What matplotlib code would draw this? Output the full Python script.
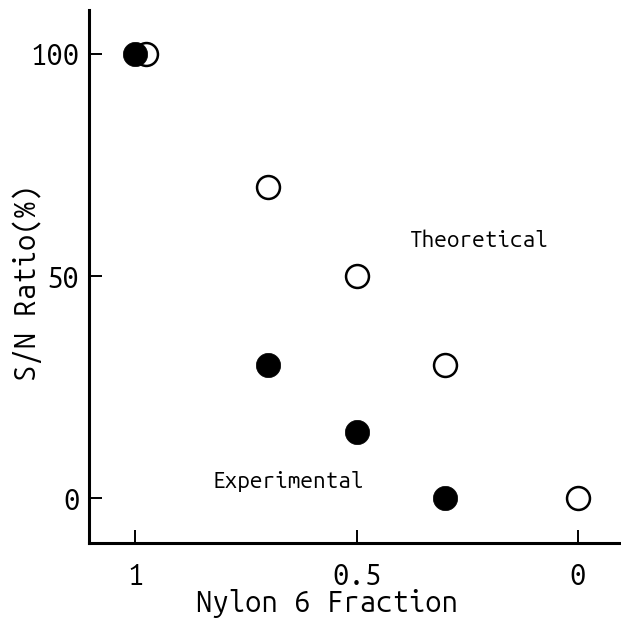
import matplotlib
matplotlib.use("Agg")
import matplotlib.pyplot as plt
from matplotlib import font_manager as fm
from matplotlib.font_manager import FontProperties

# data
exp_x = [1.0, 0.7, 0.5, 0.3]
exp_y = [100, 30, 15, 0]
theo_x = [0.975, 0.7, 0.5, 0.3, 0.0]
theo_y = [100, 70, 50, 30, 0]
xticks = [1, 0.5, 0]
xtick_labels = ["1", "0.5", "0"]
yticks = [0, 50, 100]
ytick_labels = ["0", "50", "100"]


def font(size):
    path = None
    for f in fm.fontManager.ttflist:
        if f.fname.endswith("UbuntuMono-R.ttf"):
            path = f.fname
            break
    if path:
        return FontProperties(fname=path, size=size)
    return FontProperties(family=["Ubuntu Mono", "DejaVu Sans Mono"], size=size)


big = font(21)
small = font(16.2)

fig = plt.figure(figsize=(6.21, 6.20), dpi=100)
ax = fig.add_axes([89/621, 77/620, 532/621, 533/620])
ax.plot(theo_x, theo_y, 'o', ms=16.5, mfc='white', mec='black', mew=1.8, zorder=2)
ax.plot(exp_x, exp_y, 'o', ms=17.5, mfc='black', mec='black', mew=0.5, zorder=3)
ax.set_xlim(1.104, -0.097)
ax.set_ylim(-10.1, 109.9)
for s in ['top', 'right']:
    ax.spines[s].set_visible(False)
for s in ['left', 'bottom']:
    ax.spines[s].set_linewidth(2.2)
ax.set_xticks(xticks, xtick_labels)
ax.set_yticks(yticks, ytick_labels)
ax.tick_params(direction='in', length=9.5, width=1.4)
ax.tick_params(axis='x', pad=14)
ax.tick_params(axis='y', pad=7)
for lab in ax.get_xticklabels() + ax.get_yticklabels():
    lab.set_fontproperties(big)
ax.set_xlabel("Nylon 6 Fraction", fontproperties=big)
ax.xaxis.set_label_coords(0.447, -0.130)
ax.xaxis.label.set_va('baseline')
ax.set_ylabel("S/N Ratio(%)", fontproperties=big)
ax.yaxis.set_label_coords(-0.1165, 0.488)
ax.yaxis.label.set_va('center')
ax.text(0.379, 56.5, "Theoretical", fontproperties=small, va='baseline', ha='left')
ax.text(0.826, 2.25, "Experimental", fontproperties=small, va='baseline', ha='left')
fig.savefig("out.png", dpi=100)
